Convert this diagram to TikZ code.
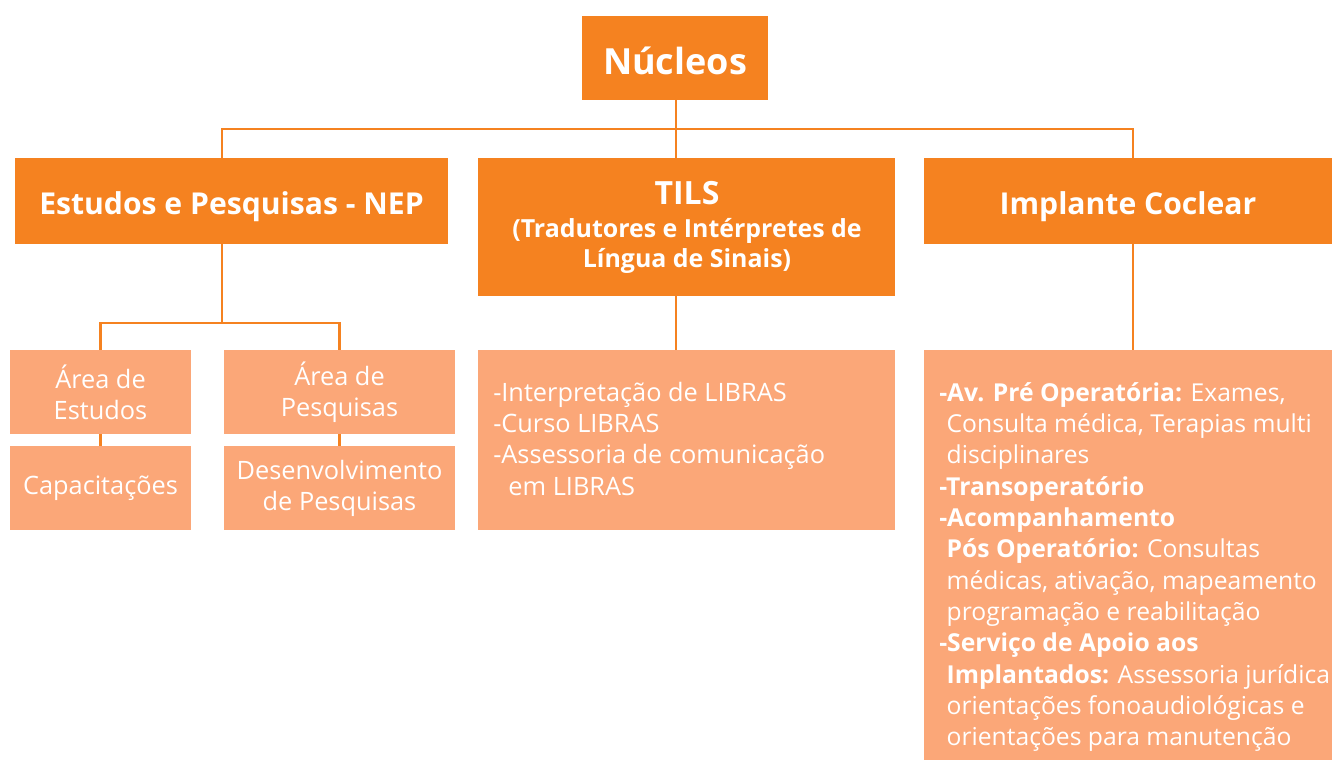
\documentclass[tikz,border=0pt]{standalone}
\usepackage{fontspec}
\setmainfont{Open Sans}
\definecolor{dorange}{RGB}{245,130,32}
\definecolor{lorange}{RGB}{251,167,120}
\tikzset{
  topbox/.style={fill=dorange, text=white, font=\bfseries\fontsize{27}{32}\selectfont, inner sep=0pt, align=center, text height=24pt, text depth=0pt},
  midbox/.style={fill=dorange, text=white, font=\bfseries\fontsize{22.6}{26}\selectfont, inner sep=0pt, align=center, text height=19.5pt, text depth=0pt},
  plainbox/.style={inner sep=0pt},
  tilstext/.style={text=white, font=\bfseries\fontsize{18.7}{24}\selectfont, inner sep=0pt, anchor=base},
  lowbox/.style={fill=lorange, text=white, font=\fontsize{19}{23.3}\selectfont, inner sep=0pt, align=center},
  listtext/.style={text=white, font=\fontsize{19}{23.5}\selectfont, inner sep=0pt, align=left, anchor=north west},
  conn/.style={draw=dorange, line width=2.2pt},
}
\begin{document}
\begin{tikzpicture}[x=0.75pt,y=-0.75pt]
\useasboundingbox (0,0) rectangle (1332,760);
% boxes
\node[topbox, minimum width=139.5pt, minimum height=63pt] (nuc) at (675,58) {Núcleos};
\node[midbox, minimum width=324.75pt, minimum height=64.5pt] (nep) at (231.5,201) {Estudos e Pesquisas - NEP};
\node[plainbox, fill=dorange, minimum width=312.75pt, minimum height=103.5pt] (tils) at (686.5,227) {};
\node[tilstext, font=\bfseries\fontsize{24}{26}\selectfont] (tils1) at (687,204) {TILS};
\node[tilstext] (tils2) at (687,237) {(Tradutores e Intérpretes de};
\node[tilstext] (tils3) at (687,267) {Língua de Sinais)};
\node[midbox, minimum width=306pt, minimum height=64.5pt] (ic) at (1128,201) {Implante Coclear};
\node[lowbox, minimum width=135.75pt, minimum height=63pt] (ae) at (100.5,392) {Área de\\Estudos};
\node[lowbox, minimum width=135.75pt, minimum height=63pt] (cap) at (100.5,488) {Capacitações};
\node[lowbox, minimum width=173.25pt, minimum height=63pt] (ap) at (339.5,392) {Área de\\Pesquisas};
\node[lowbox, minimum width=173.25pt, minimum height=63pt] (dp) at (339.5,488) {Desenvolvimento\\de Pesquisas};
\node[plainbox, fill=lorange, minimum width=312.75pt, minimum height=135pt] (tl) at (686.5,440) {};
\node[plainbox, fill=lorange, minimum width=306pt, minimum height=307.5pt] (il) at (1128,555) {};
% list texts
\node[listtext] (tlt) at (493,381.5) {-Interpretação de LIBRAS\\-Curso LIBRAS\\-Assessoria de comunicação\\\hspace*{0.6em}em LIBRAS};
\node[listtext, font=\fontsize{18.5}{23.5}\selectfont] (ilt) at (939,382) {\textbf{-Av. Pré Operatória:} Exames,\\
\hspace*{0.3em}Consulta médica, Terapias multi\\
\hspace*{0.3em}disciplinares\\
\textbf{-Transoperatório}\\
\textbf{-Acompanhamento}\\
\hspace*{0.3em}\textbf{Pós Operatório:} Consultas\\
\hspace*{0.3em}médicas, ativação, mapeamento\\
\hspace*{0.3em}programação e reabilitação\\
\textbf{-Serviço de Apoio aos}\\
\hspace*{0.3em}\textbf{Implantados:} Assessoria jurídica\\
\hspace*{0.3em}orientações fonoaudiológicas e\\
\hspace*{0.3em}orientações para manutenção};
% connectors
\coordinate (hub) at (676,129);
\draw[conn] (nuc.south -| hub) -- (hub);
\draw[conn] (nep.north -| 222,0) |- (hub) -| (ic.north -| 1133,0);
\draw[conn] (hub) -- (tils.north -| hub);
\coordinate (nepj) at (222,323);
\draw[conn] (nep.south -| nepj) -- (nepj);
\draw[conn] (ae.north) |- (nepj) -| (ap.north);
\draw[conn] (ae.south) -- (cap.north);
\draw[conn] (ap.south) -- (dp.north);
\draw[conn] (tils.south -| hub) -- (tl.north -| hub);
\draw[conn] (ic.south -| 1133,0) -- (il.north -| 1133,0);
\end{tikzpicture}
\end{document}
